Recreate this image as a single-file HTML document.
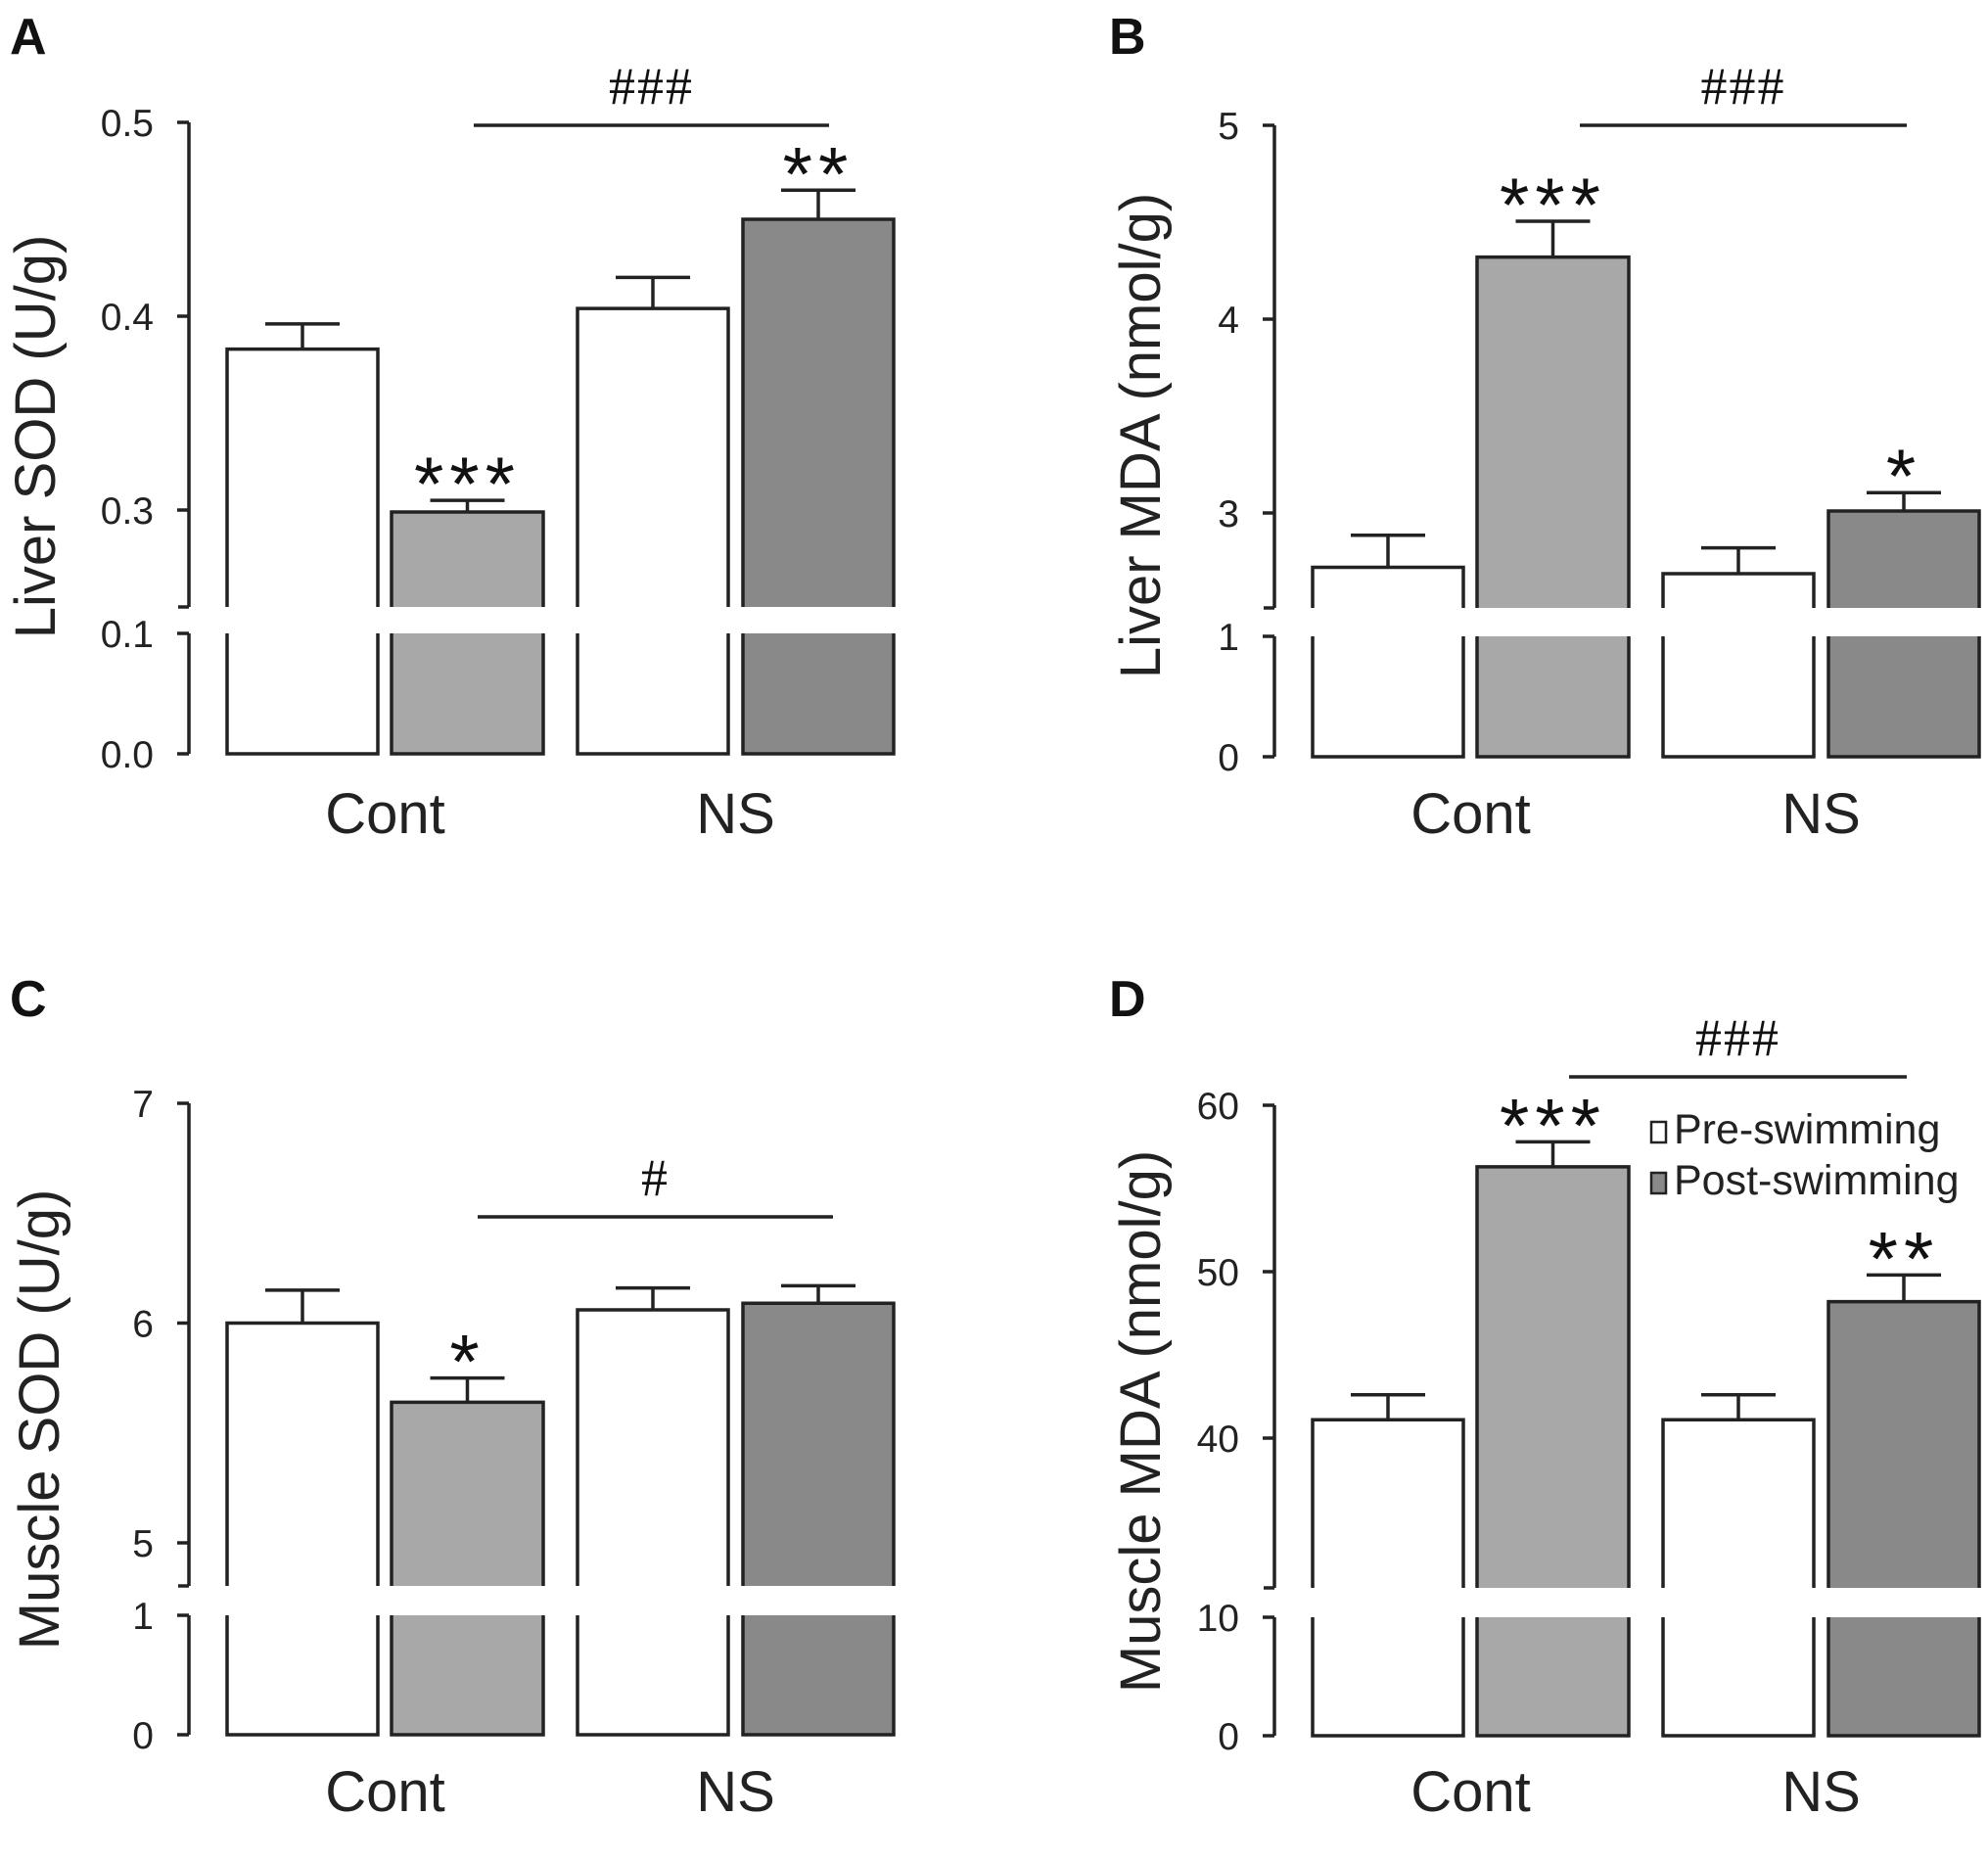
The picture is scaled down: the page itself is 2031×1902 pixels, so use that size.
<!DOCTYPE html>
<html><head><meta charset="utf-8"><style>
html,body{margin:0;padding:0;background:#fff}
svg{display:block}
</style></head><body>
<svg id="fig" width="2031" height="1902" viewBox="0 0 2031 1902" xmlns="http://www.w3.org/2000/svg" font-family="Liberation Sans, Arial, sans-serif"></svg>
<script>
const categories = ["Cont", "NS"];
const seriesNames = ["Pre-swimming", "Post-swimming"];
// Panel A: Liver SOD
const liverSodPre = [0.383, 0.404];
const liverSodPost = [0.299, 0.450];
const liverSodPreErr = [0.013, 0.016];
const liverSodPostErr = [0.006, 0.015];
const liverSodStars = ["", "***", "", "**"];
const liverSodTicksUpper = [0.3, 0.4, 0.5];
const liverSodTicksLower = [0.0, 0.1];
// Panel B: Liver MDA
const liverMdaPre = [2.72, 2.687];
const liverMdaPost = [4.32, 3.01];
const liverMdaPreErr = [0.165, 0.133];
const liverMdaPostErr = [0.185, 0.095];
const liverMdaStars = ["", "***", "", "*"];
const liverMdaTicksUpper = [3, 4, 5];
const liverMdaTicksLower = [0, 1];
// Panel C: Muscle SOD
const muscleSodPre = [6.00, 6.06];
const muscleSodPost = [5.64, 6.09];
const muscleSodPreErr = [0.15, 0.10];
const muscleSodPostErr = [0.11, 0.08];
const muscleSodStars = ["", "*", "", ""];
const muscleSodTicksUpper = [5, 6, 7];
const muscleSodTicksLower = [0, 1];
// Panel D: Muscle MDA
const muscleMdaPre = [41.1, 41.1];
const muscleMdaPost = [56.3, 48.2];
const muscleMdaPreErr = [1.5, 1.5];
const muscleMdaPostErr = [1.5, 1.6];
const muscleMdaStars = ["", "***", "", "**"];
const muscleMdaTicksUpper = [40, 50, 60];
const muscleMdaTicksLower = [0, 10];

const NS = "http://www.w3.org/2000/svg";
const svg = document.getElementById('fig');
function el(tag, attrs, parent, text) {
  const e = document.createElementNS(NS, tag);
  for (const k in attrs) e.setAttribute(k, attrs[k]);
  if (text !== undefined) e.textContent = text;
  (parent || svg).appendChild(e);
  return e;
}

const panels = [
  {key:'a', letter:'A', title:'Liver SOD (U/g)', pre:liverSodPre, post:liverSodPost, preErr:liverSodPreErr, postErr:liverSodPostErr, stars:liverSodStars, tu:liverSodTicksUpper, tl:liverSodTicksLower, dec:1, sig:'###',
   ax:193, up:{v0:0.3,y0:521,v1:0.5,y1:125,brk:620}, lo:{v0:0,y0:770,v1:0.1,y1:647}, sigY:128, sigX:[484,847], letY:55, letX:10, titleX:56, titleY:446, catY:851, legend:false},
  {key:'b', letter:'B', title:'Liver MDA (nmol/g)', pre:liverMdaPre, post:liverMdaPost, preErr:liverMdaPreErr, postErr:liverMdaPostErr, stars:liverMdaStars, tu:liverMdaTicksUpper, tl:liverMdaTicksLower, dec:0, sig:'###',
   ax:1302, up:{v0:3,y0:524,v1:5,y1:128,brk:621}, lo:{v0:0,y0:773,v1:1,y1:650}, sigY:128, sigX:[1614,1948], letY:55, letX:1133, titleX:1185, titleY:445, catY:851, legend:false},
  {key:'c', letter:'C', title:'Muscle SOD (U/g)', pre:muscleSodPre, post:muscleSodPost, preErr:muscleSodPreErr, postErr:muscleSodPostErr, stars:muscleSodStars, tu:muscleSodTicksUpper, tl:muscleSodTicksLower, dec:0, sig:'#',
   ax:193, up:{v0:5,y0:1576,v1:7,y1:1127,brk:1620}, lo:{v0:0,y0:1772,v1:1,y1:1650}, sigY:1243, sigX:[488,851], letY:1038, letX:10, titleX:60, titleY:1450, catY:1850, legend:false},
  {key:'d', letter:'D', title:'Muscle MDA (nmol/g)', pre:muscleMdaPre, post:muscleMdaPost, preErr:muscleMdaPreErr, postErr:muscleMdaPostErr, stars:muscleMdaStars, tu:muscleMdaTicksUpper, tl:muscleMdaTicksLower, dec:0, sig:'###',
   ax:1302, up:{v0:40,y0:1469,v1:60,y1:1129,brk:1622}, lo:{v0:0,y0:1773,v1:10,y1:1652}, sigY:1100, sigX:[1603,1948], letY:1038, letX:1133, titleX:1185, titleY:1452, catY:1850, legend:true}
];

const barOffsets = [[39,193],[207,362],[397,551],[566,720]];
const fills = ['#ffffff','#a8a8a8','#ffffff','#898989'];
const STROKE = '#222';
const SW = 3.5;

panels.forEach(p => {
  const g = el('g', {});
  
  
  const yU = v => p.up.y0 + (v - p.up.v0) * (p.up.y1 - p.up.y0) / (p.up.v1 - p.up.v0);
  const yL = v => p.lo.y0 + (v - p.lo.v0) * (p.lo.y1 - p.lo.y0) / (p.lo.v1 - p.lo.v0);

  const lt = el('text', {x:p.letX, y:p.letY, 'font-size':52, 'font-weight':'bold', fill:'#111'}, g, p.letter);
  
  

  const yTop = yU(p.tu[p.tu.length-1]);
  const ax1 = el('line', {x1:p.ax, y1:yTop, x2:p.ax, y2:p.up.brk, stroke:STROKE, 'stroke-width':SW}, g);
  
  
  el('line', {x1:p.ax-11, y1:p.up.brk, x2:p.ax, y2:p.up.brk, stroke:STROKE, 'stroke-width':SW}, g);
  const ax2 = el('line', {x1:p.ax, y1:p.lo.y1, x2:p.ax, y2:p.lo.y0, stroke:STROKE, 'stroke-width':SW}, g);
  
  

  const ticks = p.tu.map(v => [v, yU(v)]).concat(p.tl.map(v => [v, yL(v)]));
  ticks.forEach(([v, y]) => {
    el('line', {x1:p.ax-12, y1:y, x2:p.ax, y2:y, stroke:STROKE, 'stroke-width':SW}, g);
    const t = el('text', {x:p.ax-36, y:y+14, 'font-size':39, 'text-anchor':'end', fill:'#222'}, g, v.toFixed(p.dec));
    
    
  });

  const yt = el('text', {x:0, y:0, 'font-size':58, 'text-anchor':'middle', fill:'#222', transform:`translate(${p.titleX},${p.titleY}) rotate(-90)`}, g, p.title);
  
  

  const vals = [p.pre[0], p.post[0], p.pre[1], p.post[1]];
  const errs = [p.preErr[0], p.postErr[0], p.preErr[1], p.postErr[1]];
  vals.forEach((v, i) => {
    const x0 = p.ax + barOffsets[i][0], x1 = p.ax + barOffsets[i][1];
    const top = yU(v);
    const cx = (x0 + x1) / 2;
    const bg = el('g', {}, g);
    
    
    const et = yU(v + errs[i]);
    el('line', {x1:cx, y1:top, x2:cx, y2:et, stroke:STROKE, 'stroke-width':SW}, bg);
    el('line', {x1:cx-38, y1:et, x2:cx+38, y2:et, stroke:STROKE, 'stroke-width':SW}, bg);
    el('rect', {x:x0, y:top, width:x1-x0, height:p.up.brk-top, fill:fills[i], stroke:'none'}, bg);
    el('polyline', {points:`${x0},${p.up.brk} ${x0},${top} ${x1},${top} ${x1},${p.up.brk}`, fill:'none', stroke:STROKE, 'stroke-width':SW}, bg);
    el('rect', {x:x0, y:p.lo.y1, width:x1-x0, height:p.lo.y0-p.lo.y1, fill:fills[i], stroke:'none'}, bg);
    el('polyline', {points:`${x0},${p.lo.y1} ${x0},${p.lo.y0} ${x1},${p.lo.y0} ${x1},${p.lo.y1}`, fill:'none', stroke:STROKE, 'stroke-width':SW}, bg);
    if (p.stars[i]) {
      const st = el('text', {x:cx, y:et + 10, 'font-size':78, 'text-anchor':'middle', 'letter-spacing':6, fill:'#111'}, g, p.stars[i]);
      
      
    }
  });

  const sl = el('line', {x1:p.sigX[0], y1:p.sigY, x2:p.sigX[1], y2:p.sigY, stroke:STROKE, 'stroke-width':SW}, g);
  
  
  const sx = (p.sigX[0] + p.sigX[1]) / 2;
  const sg = el('text', {x:sx, y:p.sigY-22, 'font-size':54, 'text-anchor':'middle', 'letter-spacing':2, 'font-family':'Liberation Serif, serif', fill:'#111'}, g, p.sig);
  
  

  categories.forEach((c, k) => {
    const x0 = p.ax + barOffsets[k*2][0], x1 = p.ax + barOffsets[k*2+1][1];
    const ct = el('text', {x:(x0+x1)/2, y:p.catY, 'font-size':58, 'text-anchor':'middle', fill:'#222'}, g, c);
    
    
  });

  if (p.legend) {
    const lg = el('g', {}, g);
    
    
    const legFill = ['#ffffff', '#898989'];
    const legY = [1145, 1197];
    seriesNames.forEach((s, k) => {
      const item = el('g', {}, lg);
      
      
      el('rect', {x:1687, y:legY[k]+1, width:15, height:21, fill:legFill[k], stroke:STROKE, 'stroke-width':2.5}, item);
      el('text', {x:1710, y:legY[k]+23, 'font-size':43, fill:'#222'}, item, s);
    });
  }
});
</script>
</body></html>
